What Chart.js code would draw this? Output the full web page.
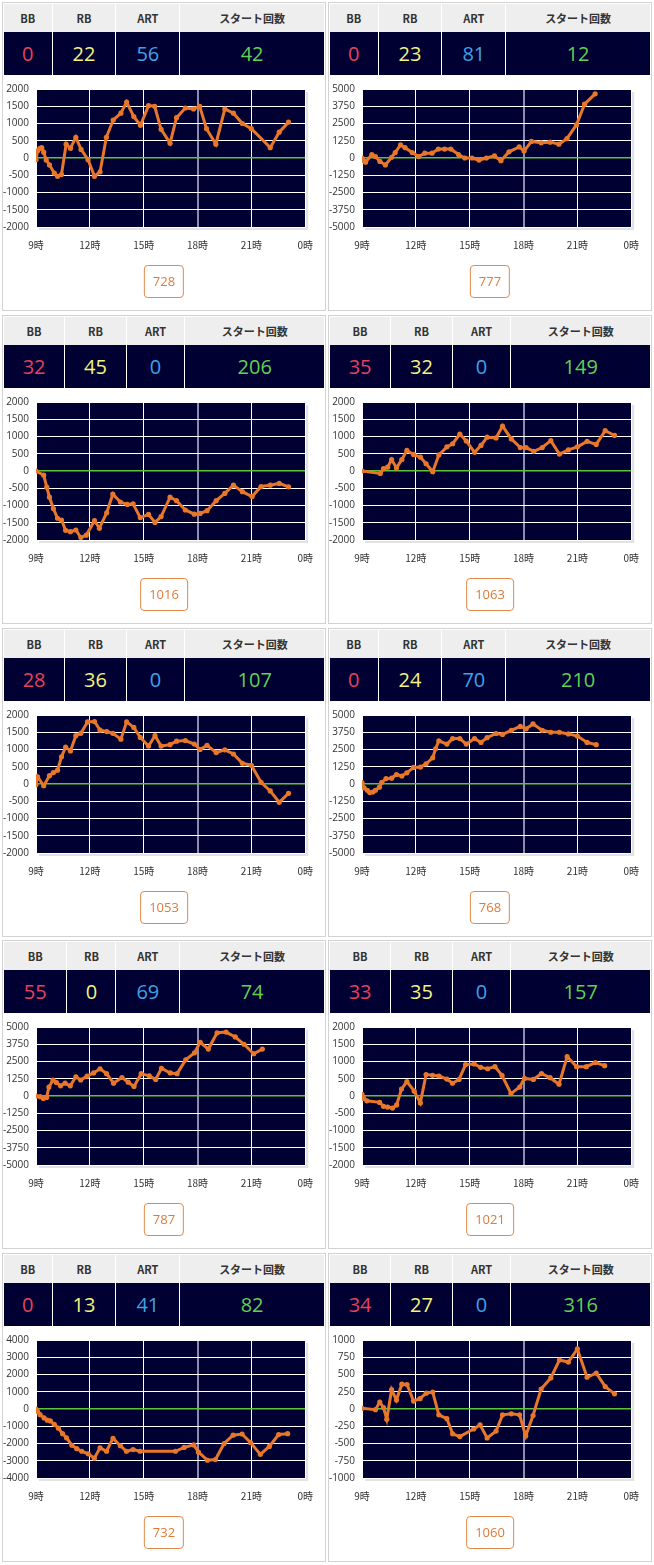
<!DOCTYPE html>
<html>
<head>
<meta charset="utf-8">
<script src="https://cdn.jsdelivr.net/npm/chart.js@4.4.0/dist/chart.umd.min.js"></script>
<style>
body { margin: 0; width: 654px; height: 1565px; position: relative; background: #fff; overflow: hidden;
       font-family: "Open Sans", "Noto Sans CJK JP", sans-serif; }
.panel { position: absolute; width: 324px; height: 309px; box-sizing: border-box; border: 1px solid #d2d2d2; padding: 1px; background: #fff; }
.panel table { width: 100%; border-collapse: collapse; }
.panel th { background: #eeeeee; height: 28px; padding: 0 5px; font-size: 11px; font-weight: bold; color: #333;
            font-family: "Noto Sans CJK JP", sans-serif; border-left: 1px solid #fff; }
.panel td { background: #000033; height: 43px; padding: 0 5px; font-size: 20px; text-align: center; border-left: 1px solid #fff; }
.panel th:first-child, .panel td:first-child { border-left: none; }
.bb { color: #e8405e; } .rb { color: #f4f47c; } .art { color: #40a2e6; } .st { color: #62d24e; }
.panel canvas { position: absolute; left: 0; top: 73px; }
.box { position: absolute; top: 262px; left: 50%; transform: translateX(-50%); height: 33px; line-height: 31px; box-sizing: border-box;
       padding: 0 8px; border: 1px solid #e0894a; border-radius: 4px; color: #e07a38; font-size: 13px; }
</style>
</head>
<body>
<script>
// counters per machine
const bbCounts = [0, 0, 32, 35, 28, 0, 55, 33, 0, 34];
const rbCounts = [22, 23, 45, 32, 36, 24, 0, 35, 13, 27];
const artCounts = [56, 81, 0, 0, 0, 70, 69, 0, 41, 0];
const startCounts = [42, 12, 206, 149, 107, 210, 74, 157, 82, 316];
const totalGames = [728, 777, 1016, 1063, 1053, 768, 787, 1021, 732, 1060];

const headerLabels = ["BB", "RB", "ART", "スタート回数"];
const xTickLabels = ["9時", "12時", "15時", "18時", "21時", "0時"];

// y axis range (+/-) and step per chart
const yLimits = [2000, 5000, 2000, 2000, 2000, 5000, 5000, 2000, 4000, 1000];
const ySteps = [500, 1250, 500, 500, 500, 1250, 1250, 500, 1000, 250];

// hours / difference values
const times1 = [9.0,9.09,9.22,9.32,9.43,9.57,9.75,10.02,10.2,10.42,10.68,10.92,11.22,11.51,11.9,12.26,12.57,12.92,13.3,13.73,14.05,14.45,14.82,15.27,15.61,15.97,16.47,16.83,17.32,17.78,18.12,18.5,19.02,19.52,20.0,20.5,21.0,22.05,22.55,23.07];
const values1 = [-50,210,280,300,170,-60,-200,-440,-530,-480,400,280,600,250,-50,-530,-400,600,1100,1300,1620,1200,950,1520,1500,830,430,1170,1450,1420,1500,850,400,1420,1300,1000,850,300,750,1040];

const times2 = [9.0,9.1,9.2,9.55,9.75,10.0,10.3,10.65,10.85,11.15,11.4,11.8,12.15,12.5,12.9,13.25,13.6,13.95,14.38,14.73,15.13,15.52,15.93,16.38,16.74,17.19,17.76,18.03,18.44,18.98,19.48,19.97,20.42,20.95,21.4,21.99];
const values2 = [0,-200,-300,250,100,-250,-500,50,400,950,750,400,100,350,350,650,650,650,250,0,0,-150,0,150,-200,450,800,500,1200,1100,1150,1000,1400,2400,3900,4650];

const times3 = [9.0,9.43,9.6,9.75,9.97,10.2,10.42,10.65,10.92,11.22,11.5,11.8,12.26,12.53,12.94,13.28,13.7,14.09,14.41,14.81,15.27,15.63,15.97,16.47,16.83,17.32,17.82,18.14,18.53,19.04,19.52,20.0,20.5,21.04,21.54,22.05,22.55,23.07];
const values3 = [0,-120,-470,-760,-1090,-1370,-1420,-1720,-1760,-1710,-1930,-1860,-1440,-1660,-1210,-670,-900,-970,-950,-1350,-1260,-1490,-1320,-760,-860,-1130,-1250,-1230,-1150,-860,-650,-410,-600,-740,-450,-410,-360,-460];

const times4 = [9.0,10.02,10.2,10.43,10.65,10.92,11.22,11.5,11.87,12.26,12.57,12.94,13.28,13.73,14.05,14.45,14.81,15.27,15.63,15.97,16.47,16.83,17.32,17.82,18.14,18.57,19.04,19.52,20.0,20.5,21.0,21.54,22.05,22.55,23.07];
const values4 = [0,-70,70,110,330,90,330,600,480,400,210,-20,465,700,790,1070,870,540,740,980,960,1300,930,680,680,570,680,880,490,610,700,860,770,1170,1030];

const times5 = [9.0,9.09,9.43,9.75,9.97,10.2,10.42,10.65,10.92,11.22,11.5,11.87,12.26,12.57,12.94,13.28,13.73,14.05,14.45,14.81,15.27,15.63,15.97,16.47,16.83,17.32,17.82,18.14,18.53,19.04,19.52,20.0,20.5,21.0,21.54,22.05,22.55,23.07];
const values5 = [-20,210,-50,240,330,400,790,1070,960,1400,1470,1800,1810,1560,1520,1470,1300,1800,1640,1350,1100,1400,1100,1140,1240,1260,1160,1000,1120,910,990,870,600,540,50,-200,-530,-270];

const times6 = [9.0,9.12,9.3,9.43,9.6,9.75,9.97,10.1,10.34,10.65,10.92,11.22,11.5,11.87,12.26,12.57,12.94,13.1,13.28,13.73,14.05,14.45,14.81,15.27,15.63,15.97,16.47,16.83,17.32,17.82,18.14,18.53,19.04,19.52,20.0,20.5,21.0,21.54,22.05];
const values6 = [100,-280,-460,-620,-580,-460,-230,120,390,420,690,580,810,1200,1230,1460,1900,2550,3130,2890,3290,3290,2890,3290,3010,3360,3660,3590,3890,4170,4000,4350,3890,3750,3750,3630,3470,3010,2850];

const times7 = [9.0,9.23,9.41,9.59,9.72,9.95,10.14,10.37,10.62,10.91,11.22,11.49,11.85,12.21,12.57,12.93,13.32,13.79,14.14,14.46,14.86,15.31,15.67,15.99,16.48,16.86,17.34,17.83,18.15,18.6,19.09,19.59,20.1,20.59,21.13,21.61];
const values7 = [0,-50,-180,-100,650,1160,970,740,930,740,1390,1160,1440,1670,1970,1620,930,1340,1000,690,1620,1460,1200,2010,1670,1620,2620,3130,3890,3400,4580,4630,4280,3750,3060,3400];

const times8 = [9.0,9.09,9.27,9.98,10.2,10.43,10.7,10.93,11.2,11.5,11.91,12.25,12.57,12.93,13.29,13.73,14.04,14.41,14.77,15.25,15.61,16.0,16.41,16.8,17.3,17.79,18.05,18.55,19.0,19.48,19.98,20.43,20.96,21.5,22.0,22.52];
const values8 = [50,-70,-140,-185,-300,-320,-350,-260,200,420,140,-200,620,600,580,490,370,480,910,930,830,790,850,600,70,260,510,480,650,530,340,1140,850,850,970,880];

const times9 = [9.0,9.09,9.23,9.45,9.63,9.8,10.02,10.25,10.48,10.7,11.0,11.27,11.55,11.91,12.25,12.57,12.93,13.29,13.7,14.04,14.41,14.8,16.77,17.25,17.79,18.05,18.55,19.0,19.48,19.98,20.48,20.96,21.5,22.0,22.52,23.02];
const values9 = [0,-150,-330,-520,-650,-690,-890,-1110,-1430,-1670,-2100,-2300,-2450,-2600,-2850,-2250,-2450,-1700,-2130,-2450,-2350,-2450,-2450,-2230,-2080,-2500,-2970,-2930,-2000,-1520,-1450,-1950,-2630,-2170,-1480,-1430];

const times10 = [9.0,9.75,9.99,10.2,10.38,10.65,10.92,11.22,11.51,11.87,12.23,12.58,12.94,13.28,13.73,14.05,14.45,15.22,15.58,15.97,16.47,16.83,17.32,17.78,18.12,18.53,18.98,19.52,20.0,20.5,21.0,21.54,22.05,22.55,23.07];
const values10 = [10,-10,100,20,-150,280,130,360,355,115,150,230,245,-85,-140,-360,-400,-290,-230,-420,-320,-85,-70,-85,-390,-95,290,450,710,680,870,460,520,325,220];

const allTimes = [times1, times2, times3, times4, times5, times6, times7, times8, times9, times10];
const allValues = [values1, values2, values3, values4, values5, values6, values7, values8, values9, values10];

// navy plot background with a light drop shadow
const plotBg = {
    id: "plotBg",
    beforeDraw(chart) {
        const { ctx, chartArea: a } = chart;
        ctx.save();
        ctx.fillStyle = "#e2e2e2";
        ctx.fillRect(a.left + 3, a.top + 3, a.width, a.height);
        ctx.fillStyle = "#000033";
        ctx.fillRect(a.left, a.top, a.width, a.height);
        ctx.restore();
    }
};

for (let i = 0; i < 10; i++) {
    const col = i % 2, row = Math.floor(i / 2);
    const panel = document.createElement("div");
    panel.className = "panel";
    panel.style.left = (col === 0 ? 2 : 328) + "px";
    panel.style.top = (2 + Math.round(row * 312.75)) + "px";

    const counts = [bbCounts[i], rbCounts[i], artCounts[i], startCounts[i]];
    const cls = ["bb", "rb", "art", "st"];
    panel.innerHTML =
        "<table><tr>" + headerLabels.map(h => "<th>" + h + "</th>").join("") + "</tr>" +
        "<tr>" + counts.map((c, k) => '<td class="' + cls[k] + '">' + c + "</td>").join("") + "</tr></table>" +
        '<canvas width="322" height="190"></canvas>' +
        '<div class="box">' + totalGames[i] + "</div>";
    document.body.appendChild(panel);

    const points = allTimes[i].map((t, k) => ({ x: t, y: allValues[i][k] }));
    const lim = yLimits[i];

    new Chart(panel.querySelector("canvas"), {
        type: "line",
        data: {
            datasets: [{
                data: points,
                borderColor: "#e8772a",
                backgroundColor: "#e8772a",
                borderWidth: 3,
                pointRadius: 2.6,
                pointBorderWidth: 0,
                tension: 0
            }]
        },
        options: {
            responsive: false,
            animation: false,
            layout: { padding: { top: 7, right: 0, left: 0, bottom: 0 } },
            plugins: { legend: { display: false }, tooltip: { enabled: false } },
            scales: {
                x: {
                    type: "linear",
                    min: 9, max: 24,
                    afterFit: s => { s.height = 39; },
                    border: { display: false },
                    grid: {
                        drawTicks: false,
                        color: c => c.tick && c.tick.value === 18 ? "#8c8cae" : "#ffffff",
                        lineWidth: c => c.tick && c.tick.value === 18 ? 2 : 1
                    },
                    ticks: {
                        stepSize: 3,
                        padding: 12,
                        maxRotation: 0,
                        color: "#333",
                        font: { size: 10, family: "'Noto Sans CJK JP', sans-serif" },
                        callback: (v, idx) => xTickLabels[idx]
                    }
                },
                y: {
                    min: -lim, max: lim,
                    afterFit: s => { s.width = 33; },
                    border: { display: false },
                    grid: {
                        drawTicks: false,
                        color: c => c.tick && c.tick.value === 0 ? "#5cc43c" : "#ffffff",
                        lineWidth: c => c.tick && c.tick.value === 0 ? 1.5 : 1
                    },
                    ticks: {
                        stepSize: ySteps[i],
                        padding: 7,
                        color: "#333",
                        font: { size: 10, family: "'Open Sans', sans-serif" },
                        callback: v => String(v)
                    }
                }
            }
        },
        plugins: [plotBg]
    });
}
</script>
</body>
</html>
